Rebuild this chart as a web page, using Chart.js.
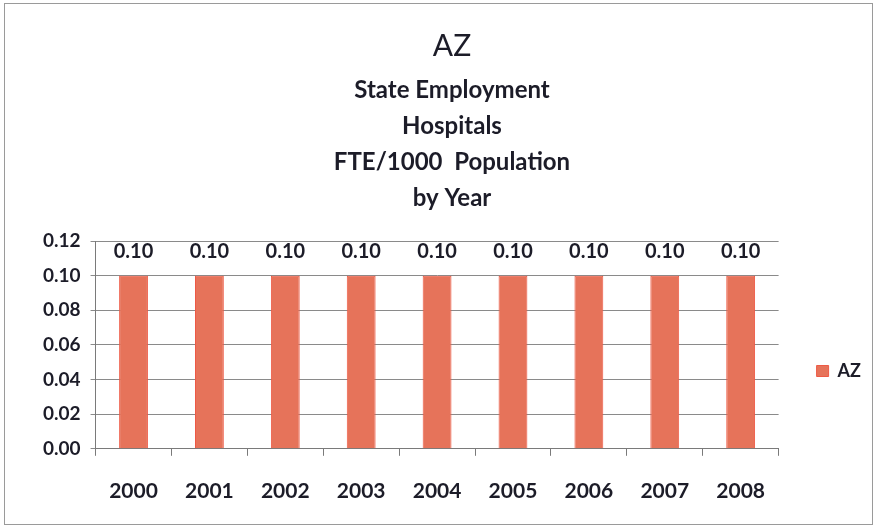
<!DOCTYPE html>
<html>
<head>
<meta charset="utf-8">
<script src="https://cdn.jsdelivr.net/npm/chart.js@4"></script>
<style>
  html, body { margin: 0; padding: 0; background: #fff; }
  #wrap { position: relative; width: 883px; height: 529px; }
  #frame { position: absolute; left: 4px; top: 3px; width: 869px; height: 522px; border: 1px solid #9a9a9a; box-sizing: border-box; pointer-events: none; }
</style>
</head>
<body>
<div id="wrap">
  <canvas id="myChart" width="883" height="529"></canvas>
  <div id="frame"></div>
</div>
<script>
// categories and values
const years = ["2000", "2001", "2002", "2003", "2004", "2005", "2006", "2007", "2008"];
const azValues = [0.10, 0.10, 0.10, 0.10, 0.10, 0.10, 0.10, 0.10, 0.10];
const yTicks = [0.00, 0.02, 0.04, 0.06, 0.08, 0.10, 0.12];
const titleText = "AZ";
const subtitleLines = ["State Employment", "Hospitals", "FTE/1000  Population", "by Year"];

const textColor = "#1c1c28";
const fontFamily = "Lato, 'Open Sans', sans-serif";

// value labels above each bar
const barLabels = {
    id: "barLabels",
    afterDatasetsDraw(chart) {
        const ctx = chart.ctx;
        const meta = chart.getDatasetMeta(0);
        ctx.save();
        ctx.fillStyle = textColor;
        ctx.font = "bold 20px " + fontFamily;
        ctx.textAlign = "center";
        ctx.textBaseline = "middle";
        meta.data.forEach((bar, i) => {
            ctx.fillText(azValues[i].toFixed(2), bar.x, bar.y - 24);
        });
        ctx.restore();
    }
};

const myChartRef = document.getElementById("myChart").getContext("2d");
new Chart(myChartRef, {
    type: "bar",
    data: {
        labels: years,
        datasets: [
            {
                label: "AZ",
                data: azValues,
                backgroundColor: "#E6735A",
                borderColor: "#EE5A45",
                borderWidth: 1,
                barPercentage: 0.38,
                categoryPercentage: 1.0
            }
        ]
    },
    options: {
        responsive: false,
        animation: false,
        layout: { padding: { top: 20, left: 33, right: 12, bottom: 2 } },
        plugins: {
            title: {
                display: true,
                text: titleText,
                color: textColor,
                font: { family: fontFamily, size: 30, weight: "normal", lineHeight: 1.2 },
                padding: { top: 8, bottom: 8 }
            },
            subtitle: {
                display: true,
                text: subtitleLines,
                color: textColor,
                font: { family: fontFamily, size: 24, weight: "bold", lineHeight: 1.5 },
                padding: { top: 0, bottom: 25 }
            },
            legend: {
                position: "right",
                align: "start",
                // empty title only pushes the entry down beside the plot
                title: {
                    display: true,
                    text: "",
                    font: { size: 4, lineHeight: 1 },
                    padding: { top: 0, bottom: 300 }
                },
                labels: {
                    color: textColor,
                    boxWidth: 12,
                    boxHeight: 11,
                    padding: 38,
                    font: { family: fontFamily, size: 18, weight: "bold" }
                }
            },
            tooltip: { enabled: false }
        },
        scales: {
            x: {
                grid: {
                    display: true,
                    drawOnChartArea: false,
                    drawTicks: true,
                    tickLength: 7,
                    color: "#7a7a7a"
                },
                border: { color: "#7a7a7a" },
                ticks: {
                    color: textColor,
                    padding: 23,
                    font: { family: fontFamily, size: 21, weight: "bold" }
                }
            },
            y: {
                min: 0,
                max: 0.12,
                afterBuildTicks(axis) {
                    axis.ticks = yTicks.map(v => ({ value: v }));
                },
                grid: {
                    color: "#8a8a8a",
                    tickLength: 5
                },
                border: { color: "#7a7a7a" },
                ticks: {
                    color: textColor,
                    padding: 10,
                    font: { family: fontFamily, size: 19, weight: "bold" },
                    callback: v => Number(v).toFixed(2)
                }
            }
        }
    },
    plugins: [barLabels]
});
</script>
</body>
</html>
